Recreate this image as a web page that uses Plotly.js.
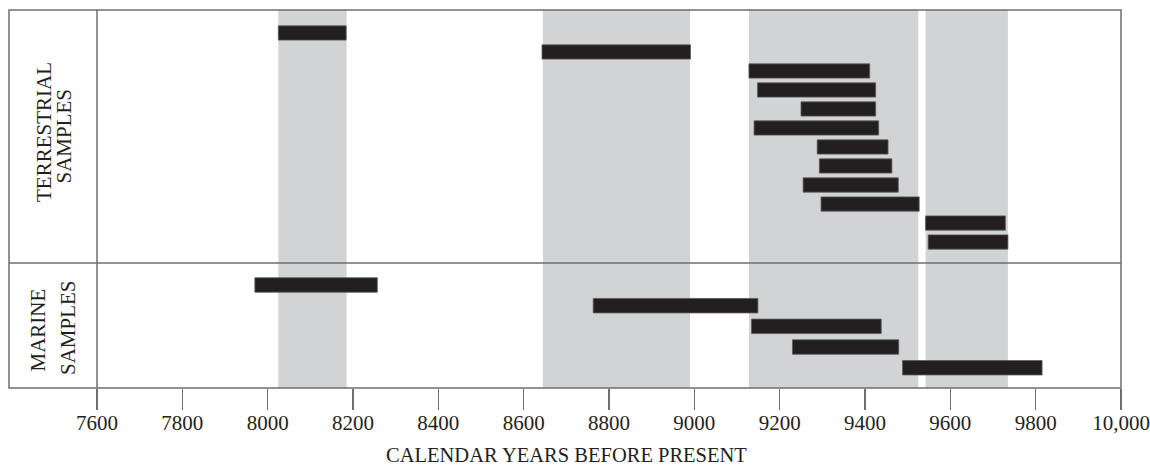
<!DOCTYPE html>
<html>
<head>
<meta charset="utf-8">
<script src="https://cdn.plot.ly/plotly-3.0.1.min.js"></script>
<style>
  html, body { margin: 0; padding: 0; background: #ffffff; }
  #chart { width: 1150px; height: 467px; }
</style>
</head>
<body>
<div id="chart"></div>
<script>
// ---- data (calendar years before present) ----
var terrestrialStart = [8025, 8643, 9128, 9148, 9250, 9140, 9288, 9293, 9255, 9297, 9542, 9548];
var terrestrialEnd   = [8184, 8991, 9411, 9425, 9425, 9432, 9454, 9463, 9478, 9527, 9729, 9735];
var marineStart = [7970, 8763, 9134, 9230, 9488];
var marineEnd   = [8257, 9149, 9438, 9479, 9815];
var bandStart = [8025, 8645, 9128, 9542];
var bandEnd   = [8185, 8990, 9525, 9735];
var tickValues = [7600, 7800, 8000, 8200, 8400, 8600, 8800, 9000, 9200, 9400, 9600, 9800, 10000];
var tickLabels = ["7600", "7800", "8000", "8200", "8400", "8600", "8800", "9000", "9200", "9400", "9600", "9800", "10,000"];

// ---- build ----
function rows(n) { var r = []; for (var i = 1; i <= n; i++) r.push(i); return r; }
function lengths(s, e) { return s.map(function (v, i) { return e[i] - v; }); }

var FONT = "Liberation Serif, Times New Roman, serif";
var INK = "#231f20";
var FRAME = "#6e6e6e";

var traces = [
  {
    type: "bar", orientation: "h",
    y: rows(terrestrialStart.length),
    base: terrestrialStart,
    x: lengths(terrestrialStart, terrestrialEnd),
    width: 0.75,
    marker: { color: INK, line: { color: "#5a5a5a", width: 0.8 } },
    xaxis: "x", yaxis: "y", hoverinfo: "skip", showlegend: false
  },
  {
    type: "bar", orientation: "h",
    y: rows(marineStart.length),
    base: marineStart,
    x: lengths(marineStart, marineEnd),
    width: 0.70,
    marker: { color: INK, line: { color: "#5a5a5a", width: 0.8 } },
    xaxis: "x", yaxis: "y2", hoverinfo: "skip", showlegend: false
  }
];

var split = (388 - 263) / 378;
var leftEdge = (9 - 97) / 1024;

var shapes = bandStart.map(function (s, i) {
  return { type: "rect", xref: "x", yref: "paper", x0: s, x1: bandEnd[i], y0: 0, y1: 1,
           fillcolor: "#d1d3d4", line: { width: 0 }, layer: "below" };
});
shapes.push({ type: "rect", xref: "paper", yref: "paper", x0: leftEdge, x1: 1, y0: 0, y1: 1,
              line: { color: FRAME, width: 1.5 }, fillcolor: "rgba(0,0,0,0)", layer: "above" });
shapes.push({ type: "line", xref: "paper", yref: "paper", x0: 0, x1: 0, y0: 0, y1: 1,
              line: { color: FRAME, width: 1.5 }, layer: "above" });
shapes.push({ type: "line", xref: "paper", yref: "paper", x0: leftEdge, x1: 1, y0: split, y1: split,
              line: { color: FRAME, width: 1.5 }, layer: "above" });

function px2x(px) { return (px - 97) / 1024; }
function py2y(py) { return (388 - py) / 378; }
function sideLabel(text, px, py) {
  return { text: text, xref: "paper", yref: "paper", x: px2x(px), y: py2y(py),
           xanchor: "center", yanchor: "middle", textangle: -90, showarrow: false,
           font: { family: FONT, size: 21, color: INK } };
}

var annotations = [
  sideLabel("TERRESTRIAL", 44, 132),
  sideLabel("SAMPLES", 63.5, 136),
  sideLabel("MARINE", 37.5, 330),
  sideLabel("SAMPLES", 68, 328),
  { text: "CALENDAR YEARS BEFORE PRESENT", xref: "paper", yref: "paper",
    x: px2x(566), y: py2y(466.5), xanchor: "center", yanchor: "bottom", showarrow: false,
    borderpad: 0,
    font: { family: FONT, size: 20.5, color: INK } }
];

var layout = {
  width: 1150, height: 467,
  margin: { l: 97, r: 29, t: 10, b: 79, pad: 0 },
  paper_bgcolor: "#ffffff", plot_bgcolor: "rgba(0,0,0,0)",
  bargap: 0,
  font: { family: FONT, size: 21, color: INK },
  xaxis: {
    range: [7600, 10000], anchor: "y2",
    tickmode: "array", tickvals: tickValues, ticktext: tickLabels,
    ticks: "outside", ticklen: 21, tickwidth: 1.2, tickcolor: FRAME,
    ticklabelstandoff: -5,
    showgrid: false, zeroline: false, showline: false,
    tickfont: { family: FONT, size: 21, color: INK }
  },
  yaxis: {
    domain: [split, 1], range: [13.105, -0.21],
    showticklabels: false, ticks: "", showgrid: false, zeroline: false, showline: false
  },
  yaxis2: {
    domain: [0, split], range: [5.98, -0.063],
    showticklabels: false, ticks: "", showgrid: false, zeroline: false, showline: false
  },
  shapes: shapes,
  annotations: annotations
};

Plotly.newPlot("chart", traces, layout, { staticPlot: true, displayModeBar: false });
</script>
</body>
</html>
